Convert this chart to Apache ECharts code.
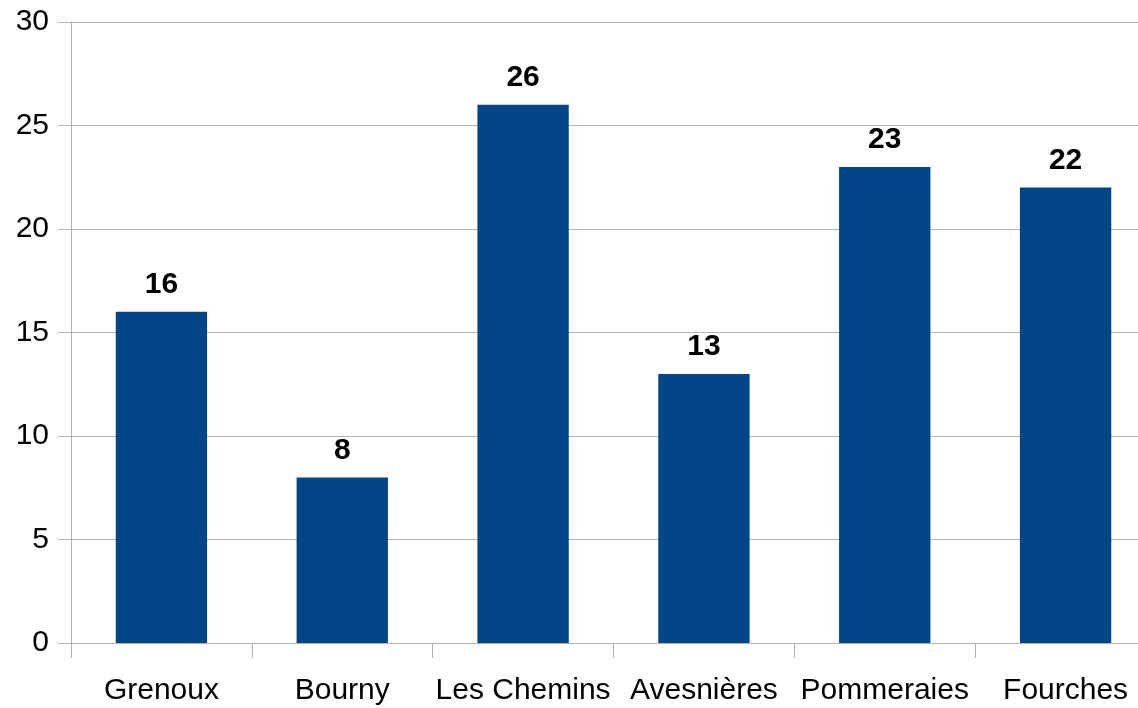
<!DOCTYPE html>
<html><head><meta charset="utf-8">
<script src="https://cdn.jsdelivr.net/npm/echarts@6/dist/echarts.min.js"></script>
<style>html,body{margin:0;padding:0;background:#fff}#c{width:1138px;height:708px}</style>
</head><body><div id="c"></div>
<script>
const categories = ["Grenoux", "Bourny", "Les Chemins", "Avesnières", "Pommeraies", "Fourches"];
const values = [16, 8, 26, 13, 23, 22];
const yTicks = [0, 5, 10, 15, 20, 25, 30];

const chart = echarts.init(document.getElementById('c'), null, {renderer: 'canvas'});
chart.setOption({
  animation: false,
  backgroundColor: '#ffffff',
  grid: {left: 71, width: 1085, top: 22, height: 621, containLabel: false, outerBoundsMode: 'none'},
  xAxis: {
    type: 'category', data: categories,
    axisLine: {show: true, lineStyle: {color: '#b3b3b3', width: 1}},
    axisTick: {show: true, length: 15, lineStyle: {color: '#b3b3b3'}},
    axisLabel: {color: '#000', fontSize: 30, fontFamily: 'Liberation Sans, Arial', margin: 33, interval: 0}
  },
  yAxis: {
    type: 'value', min: yTicks[0], max: yTicks[yTicks.length-1], interval: 5,
    axisLine: {show: true, lineStyle: {color: '#b3b3b3'}},
    axisTick: {show: true, length: 13, lineStyle: {color: '#b3b3b3'}},
    splitLine: {show: true, lineStyle: {color: '#b3b3b3', width: 1}},
    axisLabel: {color: '#000', fontSize: 30, fontFamily: 'Liberation Sans, Arial', margin: 22}
  },
  series: [{
    type: 'bar', data: values, barWidth: '50.5%',
    itemStyle: {color: '#004586'},
    label: {show: true, position: 'top', distance: 12, color: '#000', fontWeight: 'bold', fontSize: 30, fontFamily: 'Liberation Sans, Arial'}
  }]
});
</script></body></html>
